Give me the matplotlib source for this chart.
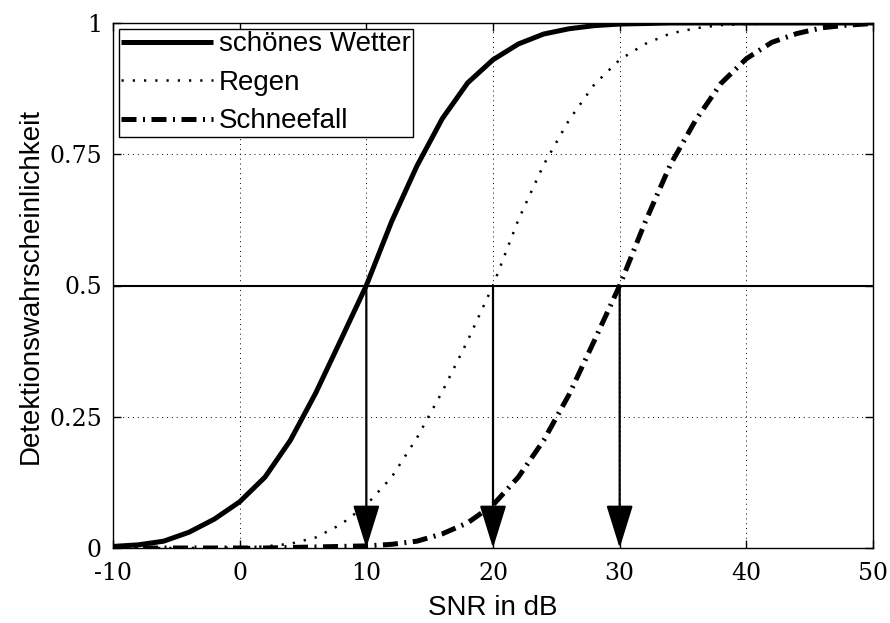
import matplotlib
matplotlib.use("Agg")
import matplotlib.pyplot as plt

plt.rcParams["axes.unicode_minus"] = False

snr = [-10, -8, -6, -4, -2, 0, 2, 4, 6, 8, 10, 12, 14, 16, 18, 20, 22, 24, 26, 28,
       30, 32, 34, 36, 38, 40, 42, 44, 46, 48, 50]

schoen = [0.003, 0.006, 0.013, 0.03, 0.055, 0.088, 0.135, 0.205, 0.295, 0.397, 0.5,
          0.622, 0.728, 0.818, 0.886, 0.93, 0.96, 0.979, 0.989, 0.995, 0.998, 0.999,
          1.0, 1.0, 1.0, 1.0, 1.0, 1.0, 1.0, 1.0, 1.0]

regen = [0.0, 0.0, 0.0, 0.0, 0.0, 0.001, 0.003, 0.008, 0.02, 0.045, 0.082,
         0.135, 0.21, 0.298, 0.395, 0.5, 0.625, 0.73, 0.815, 0.883, 0.93, 0.96,
         0.98, 0.99, 0.996, 0.998, 0.999, 1.0, 1.0, 1.0, 1.0]

schnee = [0.0, 0.0, 0.0, 0.0, 0.0, 0.0, 0.0, 0.001, 0.002, 0.003, 0.004,
          0.007, 0.013, 0.027, 0.048, 0.082, 0.135, 0.205, 0.292, 0.395, 0.5, 0.62,
          0.73, 0.815, 0.885, 0.932, 0.963, 0.98, 0.991, 0.996, 0.999]

labels = ["schönes Wetter", "Regen", "Schneefall"]
arrow_x = [10, 20, 30]
threshold = 0.5

xticks = [-10, 0, 10, 20, 30, 40, 50]
yticks = [0, 0.25, 0.5, 0.75, 1]
yticklabels = ["0", "0.25", "0.5", "0.75", "1"]

fig = plt.figure(figsize=(8.9, 6.23), dpi=100)
ax = fig.add_axes([113 / 890, 75 / 623, 760 / 890, 525 / 623])

ax.plot(snr, schoen, color="black", lw=3.6, solid_capstyle="butt", label=labels[0])
ax.plot(snr, regen, color="black", lw=1.8, linestyle=(0, (0.9, 3.6)), label=labels[1])
ax.plot(snr, schnee, color="black", lw=3.6, linestyle=(0, (3.0, 1.3, 0.4, 1.3)),
        dash_capstyle="butt", label=labels[2])

ax.axhline(threshold, color="black", lw=1.5)
for xa in arrow_x:
    ax.annotate("", xy=(xa, 0), xytext=(xa, threshold),
                arrowprops=dict(arrowstyle="-|>,head_length=1.35,head_width=0.42",
                                mutation_scale=20, color="black", lw=1.6,
                                shrinkA=0, shrinkB=0))

ax.set_xlim(-10, 50)
ax.set_ylim(0, 1)
ax.set_xticks(xticks)
ax.set_yticks(yticks)
ax.set_yticklabels(yticklabels)
ax.grid(True, linestyle=(0, (1, 4)), color="black", lw=0.7)
ax.tick_params(direction="in", top=True, right=True, length=6, width=1,
               labelsize=17)
ax.tick_params(axis="x", pad=10)
ax.tick_params(axis="y", pad=8)
for lab in ax.get_xticklabels() + ax.get_yticklabels():
    lab.set_family("DejaVu Serif")
for sp in ax.spines.values():
    sp.set_linewidth(1.0)

ax.set_xlabel("SNR in dB", fontsize=20, family="Liberation Sans", labelpad=7)
ax.set_ylabel("Detektionswahrscheinlichkeit", fontsize=20, family="Liberation Sans",
              labelpad=4)

leg = ax.legend(loc="upper left", prop={"family": "Liberation Sans", "size": 20},
                frameon=True, fancybox=False, edgecolor="black", framealpha=1,
                borderaxespad=0.2, borderpad=0.1, handlelength=3.3, handletextpad=0.2,
                labelspacing=0.45)
leg.get_frame().set_linewidth(1.0)

fig.savefig("out.png", dpi=100)
